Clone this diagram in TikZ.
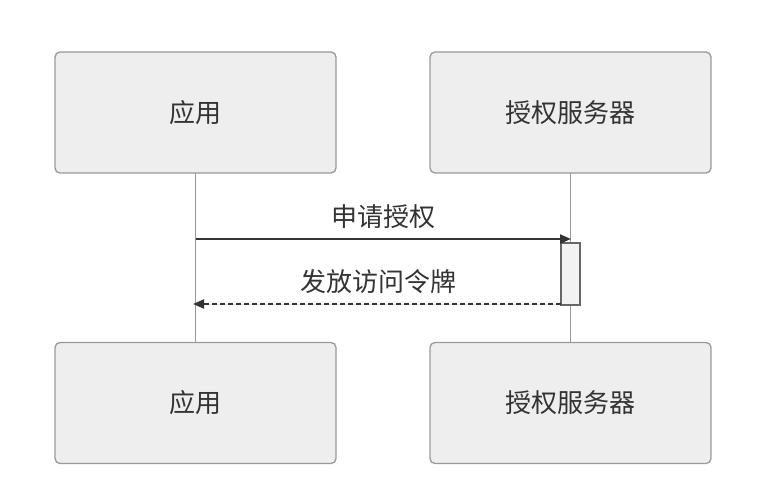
\documentclass[tikz,border=0pt]{standalone}
\usepackage{fontspec}
\newfontfamily\cjk{Noto Sans CJK SC}
\usetikzlibrary{arrows.meta}
\definecolor{boxfill}{HTML}{EEEEEE}
\definecolor{boxline}{HTML}{999999}
\definecolor{msgline}{HTML}{333333}
\definecolor{actfill}{HTML}{F2F2F2}
\definecolor{actline}{HTML}{666666}

\begin{document}
\begin{tikzpicture}[x=1pt,y=-1pt,>={Triangle[length=11pt,width=9pt]},
  actor/.style={draw=boxline,fill=boxfill,line width=1.3pt,rounded corners=5pt,
    minimum width=281pt,minimum height=121pt,inner sep=0pt,text=msgline,
    font=\cjk\fontsize{26}{30}\selectfont},
  lifeline/.style={draw=boxline,line width=0.8pt},
  msg/.style={draw=msgline,fill=msgline,line width=2pt,->},
  msglabel/.style={text=msgline,inner sep=0pt,font=\cjk\fontsize{26}{30}\selectfont}]
  \useasboundingbox (0,0) rectangle (757,495);
  % ===================== lineas de vida =====================
  \coordinate (appTop) at (195.5,173);
  \coordinate (appBot) at (195.5,342);
  \coordinate (srvTop) at (570.5,173);
  \coordinate (srvBot) at (570.5,342);
  \draw[lifeline] (appTop) -- (appBot);
  \draw[lifeline] (srvTop) -- (srvBot);
  % ===================== participantes =====================
  \node[actor] (appT) at (195.5,112.5) {应用};
  \node[actor] (srvT) at (570.5,112.5) {授权服务器};
  \node[actor] (appB) at (195.5,403) {应用};
  \node[actor] (srvB) at (570.5,403) {授权服务器};
  % ===================== activacion =====================
  \node[draw=actline,fill=actfill,line width=1.3pt,inner sep=0pt,
    minimum width=19pt,minimum height=62pt] (act) at (570.5,274) {};
  % ===================== mensajes =====================
  \coordinate (req1) at (195.5,239);
  \coordinate (req2) at (571,239);
  \draw[msg] (req1) -- (req2);
  \node[msglabel] (reqL) at (383.5,217) {申请授权};
  \coordinate (tok1) at (561,304);
  \coordinate (tok2) at (193,304);
  \draw[msg,dashed,dash pattern=on 5pt off 3pt] (tok1) -- (tok2);
  \node[msglabel] (tokL) at (378.5,282) {发放访问令牌};
\end{tikzpicture}
\end{document}
